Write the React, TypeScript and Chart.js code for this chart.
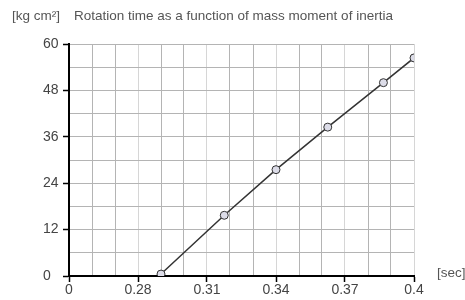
import React, { useEffect, useRef } from "react";
import { Chart, registerables } from "chart.js";

Chart.register(...registerables);

const timeSec = [0.29, 0.3175, 0.34, 0.3625, 0.3867, 0.4];
const inertia = [0.5, 15.7, 27.5, 38.5, 50, 56.4];
const xTickLabels = ["0", "0.28", "0.31", "0.34", "0.37", "0.4"];
const yTickLabels = ["0", "12", "24", "36", "48", "60"];
const titleUnit = "[kg cm²]";
const titleText = "Rotation time as a function of mass moment of inertia";
const xUnit = "[sec]";

const FONT = '"Liberation Sans", Arial, sans-serif';

export default function App() {
  const ref = useRef<HTMLCanvasElement>(null);
  useEffect(() => {
    if (!ref.current) return;
    const textPlugin = {
      id: "texts",
      afterDraw(chart: any) {
        const ctx = chart.ctx;
        ctx.save();
        ctx.font = `13.5px ${FONT}`;
        ctx.fillStyle = "#555";
        ctx.textBaseline = "alphabetic";
        ctx.textAlign = "left";
        ctx.fillText(titleUnit, 12, 20);
        ctx.fillText(titleText, 74, 20);
        ctx.fillText(xUnit, 437, 277);
        ctx.restore();
      },
    };
    const chart = new Chart(ref.current, {
      type: "line",
      data: {
        datasets: [
          {
            data: timeSec.map((x, i) => ({ x, y: inertia[i] })),
            borderColor: "#333",
            borderWidth: 1.5,
            pointRadius: 4,
            pointBackgroundColor: "#dcdce8",
            pointBorderColor: "#333",
            pointBorderWidth: 1,
            tension: 0,
          },
        ],
      },
      options: {
        responsive: false,
        animation: false,
        devicePixelRatio: 1,
        layout: { padding: { left: 43, top: 44, right: 51, bottom: 0 } },
        plugins: { legend: { display: false }, tooltip: { enabled: false } },
        scales: {
          x: {
            type: "linear",
            min: 0.25,
            max: 0.4,
            afterFit(scale: any) {
              scale.height = 24;
              scale.paddingLeft = 0;
              scale.paddingRight = 0;
            },
            ticks: {
              stepSize: 0.01,
              autoSkip: false,
              maxRotation: 0,
              padding: 0,
              color: "#444",
              font: { family: FONT, size: 14 },
              callback: (v: any) => {
                const i = Math.round((Number(v) - 0.25) / 0.01);
                return i % 3 === 0 ? xTickLabels[i / 3] : "";
              },
            },
            grid: {
              color: (c: any) => (c.index % 3 === 0 ? "#d6d6d6" : "#b4b4b4"),
              tickColor: (c: any) => (c.index % 3 === 0 ? "#000" : "rgba(0,0,0,0)"),
              tickLength: 6,
              tickWidth: 1.5,
              lineWidth: 1,
            },
            border: { color: "#000", width: 2 },
          },
          y: {
            min: 0,
            max: 60,
            afterFit(scale: any) {
              scale.width = 26;
              scale.paddingTop = 0;
              scale.paddingBottom = 0;
            },
            ticks: {
              stepSize: 6,
              autoSkip: false,
              crossAlign: "far",
              padding: 2,
              color: "#444",
              font: { family: FONT, size: 14 },
              callback: (v: any) => {
                const i = Math.round(Number(v) / 6);
                return i % 2 === 0 ? yTickLabels[i / 2] : "";
              },
            },
            grid: {
              color: "#b4b4b4",
              tickColor: (c: any) => (c.index % 2 === 0 ? "#000" : "rgba(0,0,0,0)"),
              tickLength: 6,
              tickWidth: 1.5,
              lineWidth: 1,
            },
            border: { color: "#000", width: 2 },
          },
        },
      },
      plugins: [textPlugin],
    });
    return () => chart.destroy();
  }, []);
  return (
    <div style={{ position: "absolute", left: 0, top: 0, width: 465, height: 300 }}>
      <canvas ref={ref} width={465} height={300} />
    </div>
  );
}
